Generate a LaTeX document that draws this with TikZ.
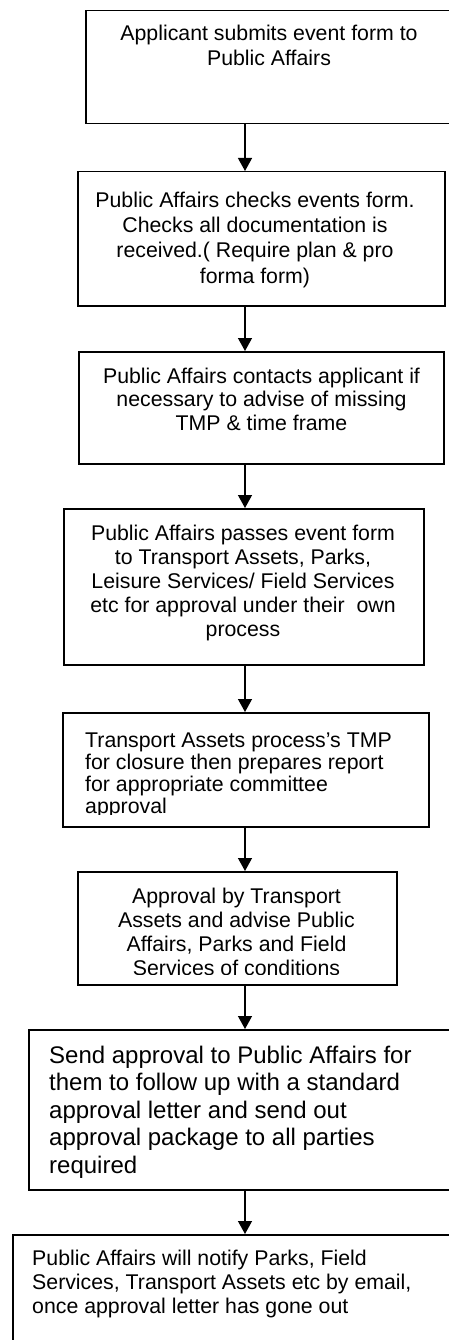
\documentclass[tikz,border=0pt]{standalone}
\usepackage{fontspec}
\setmainfont{Liberation Sans}
\usetikzlibrary{arrows.meta}
\tikzset{
  boxstyle/.style={draw, line width=1.5pt, inner sep=0pt, anchor=north west},
  txt/.style={inner sep=0pt, anchor=north},
  txtl/.style={inner sep=0pt, anchor=north west, align=left},
  arr/.style={line width=1.3pt, -{Triangle[length=13pt,width=14pt]}}
}
\begin{document}
\begin{tikzpicture}[x=1pt,y=-1pt]
\useasboundingbox (0,0) rectangle (449,1340);
\clip (0,0) rectangle (449,1340);
\fill[white] (0,0) rectangle (449,1340);
\coordinate (ax) at (245,0);
% boxes
\node[boxstyle, minimum width=375pt, minimum height=113pt] (b1) at (85,10) {};
\node[boxstyle, minimum width=367pt, minimum height=134pt] (b2) at (77,171) {};
\node[boxstyle, minimum width=365pt, minimum height=112pt] (b3) at (78,351) {};
\node[boxstyle, minimum width=360pt, minimum height=156pt] (b4) at (63,508) {};
\node[boxstyle, minimum width=366pt, minimum height=114pt] (b5) at (62,712) {};
\node[boxstyle, minimum width=319pt, minimum height=113pt] (b6) at (77,871) {};
\node[boxstyle, minimum width=432pt, minimum height=160pt] (b7) at (28,1029) {};
\node[boxstyle, minimum width=448pt, minimum height=130pt] (b8) at (12,1234) {};
% texts
\node[txt, align=center, font=\fontsize{21.3}{25}\selectfont] (t1) at (269,23)
  {\rule{0pt}{17pt}Applicant submits event form to\\Public Affairs};
\node[txt, align=center, font=\fontsize{21.3}{25.3}\selectfont] (t2) at (255,190)
  {\rule{0pt}{17pt}Public Affairs checks events form.\\Checks all documentation is\\received.( Require plan \& pro\\forma form)};
\node[txt, align=center, font=\fontsize{21.3}{23.5}\selectfont] (t3) at (261.5,366)
  {\rule{0pt}{17pt}Public Affairs contacts applicant if\\necessary to advise of missing\\TMP \& time frame};
\node[txt, align=center, font=\fontsize{21.3}{24}\selectfont] (t4) at (243,523)
  {\rule{0pt}{17pt}Public Affairs passes event form\\to Transport Assets, Parks,\\Leisure Services/ Field Services\\etc for approval under their\ \ own\\process};
\begin{scope}
\clip (62,712) rectangle (428,814.3);
\node[txtl, font=\fontsize{21.3}{22}\selectfont] (t5) at (85,730)
  {\rule{0pt}{17pt}Transport Assets process’s TMP\\for closure then prepares report\\for appropriate committee\\approval};
\end{scope}
\begin{scope}
\clip (77,871) rectangle (396,974.5);
\node[txt, align=center, font=\fontsize{21.3}{24}\selectfont] (t6) at (236.5,886)
  {\rule{0pt}{17pt}Approval by Transport\\Assets and advise Public\\Affairs, Parks and Field\\Services of conditions};
\end{scope}
\node[txtl, font=\fontsize{24}{27.5}\selectfont] (t7) at (49,1044)
  {\rule{0pt}{19pt}Send approval to Public Affairs for\\them to follow up with a standard\\approval letter and send out\\approval package to all parties\\required};
\node[txtl, font=\fontsize{21.3}{24}\selectfont] (t8) at (32,1248)
  {\rule{0pt}{17pt}Public Affairs will notify Parks, Field\\Services, Transport Assets etc by email,\\once approval letter has gone out};
% arrows
\draw[arr] (b1.south -| ax) -- (b2.north -| ax);
\draw[arr] (b2.south -| ax) -- (b3.north -| ax);
\draw[arr] (b3.south -| ax) -- (b4.north -| ax);
\draw[arr] (b4.south -| ax) -- (b5.north -| ax);
\draw[arr] (b5.south -| ax) -- (b6.north -| ax);
\draw[arr] (b6.south -| ax) -- (b7.north -| ax);
\draw[arr] (b7.south -| ax) -- (b8.north -| ax);
\end{tikzpicture}
\end{document}
